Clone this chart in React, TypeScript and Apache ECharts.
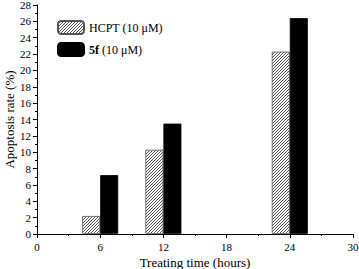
import React, { useEffect, useRef } from "react";
import * as echarts from "echarts";

const times = [6, 12, 24];
const hcptValues = [2.2, 10.3, 22.3];
const f5Values = [7.2, 13.5, 26.4];
const seriesNames = ["HCPT (10 μM)", "5f (10 μM)"];
const xName = "Treating time (hours)";
const yName = "Apoptosis rate (%)";

const FONT = "'Times New Roman', 'Liberation Serif', serif";

function makeHatch(): HTMLCanvasElement {
  const c = document.createElement("canvas");
  c.width = 3;
  c.height = 3;
  const ctx = c.getContext("2d")!;
  ctx.fillStyle = "#fff";
  ctx.fillRect(0, 0, 3, 3);
  ctx.fillStyle = "#555";
  ctx.fillRect(0, 2, 1, 1);
  ctx.fillRect(1, 1, 1, 1);
  ctx.fillRect(2, 0, 1, 1);
  return c;
}

export default function App() {
  const ref = useRef<HTMLDivElement>(null);
  useEffect(() => {
    if (!ref.current) return;
    const chart = echarts.init(ref.current, undefined, { renderer: "svg" });
    const hatch = makeHatch();
    chart.setOption({
      animation: false,
      backgroundColor: "#fff",
      textStyle: { fontFamily: FONT, color: "#000" },
      grid: {
        left: 37,
        right: 6,
        top: 5,
        bottom: 35,
        containLabel: false,
        outerBoundsMode: "none",
      },
      legend: {
        orient: "vertical",
        left: 57,
        top: 20,
        itemWidth: 26,
        itemHeight: 13,
        itemGap: 7,
        padding: 0,
        data: seriesNames,
        formatter: (name: string) =>
          name.startsWith("5f") ? "{b|5f} (10 μM)" : name,
        textStyle: {
          fontFamily: FONT,
          fontSize: 12,
          color: "#000",
          rich: {
            b: { fontFamily: FONT, fontSize: 12, fontWeight: "bold", color: "#000" },
          },
        },
      },
      xAxis: {
        type: "value",
        min: 0,
        max: 30,
        interval: 6,
        name: xName,
        nameLocation: "middle",
        nameGap: 22,
        nameMoveOverlap: false,
        nameTextStyle: { fontFamily: FONT, fontSize: 13, color: "#000" },
        axisLine: { lineStyle: { color: "#000", width: 1 } },
        axisTick: { show: true, inside: false, length: 4, lineStyle: { color: "#000" } },
        minorTick: { show: true, splitNumber: 2, length: 2, lineStyle: { color: "#000" } },
        axisLabel: { fontFamily: FONT, fontSize: 11, color: "#000", margin: 7 },
        splitLine: { show: false },
      },
      yAxis: {
        type: "value",
        min: 0,
        max: 28,
        interval: 2,
        name: yName,
        nameLocation: "middle",
        nameGap: 21,
        nameMoveOverlap: false,
        nameTextStyle: { fontFamily: FONT, fontSize: 13, color: "#000" },
        axisLine: { show: true, lineStyle: { color: "#000", width: 1 } },
        axisTick: { show: true, inside: false, length: 4, lineStyle: { color: "#000" } },
        minorTick: { show: true, splitNumber: 2, length: 2, lineStyle: { color: "#000" } },
        axisLabel: {
          fontFamily: FONT,
          fontSize: 11,
          color: "#000",
          margin: 6,
          showMinLabel: true,
          showMaxLabel: true,
        },
        splitLine: { show: false },
      },
      series: [
        {
          name: seriesNames[0],
          type: "bar",
          barWidth: 18,
          barGap: "0%",
          data: times.map((t, i) => [t, hcptValues[i]]),
          itemStyle: {
            color: { image: hatch, repeat: "repeat" },
            borderColor: "#555",
            borderWidth: 0.8,
          },
        },
        {
          name: seriesNames[1],
          type: "bar",
          barWidth: 18,
          barGap: "0%",
          data: times.map((t, i) => [t, f5Values[i]]),
          itemStyle: { color: "#000", borderColor: "#000", borderWidth: 0.8 },
        },
      ],
    });
    return () => chart.dispose();
  }, []);
  return (
    <div
      ref={ref}
      style={{ position: "absolute", left: 0, top: 0, width: 359, height: 269 }}
    />
  );
}
